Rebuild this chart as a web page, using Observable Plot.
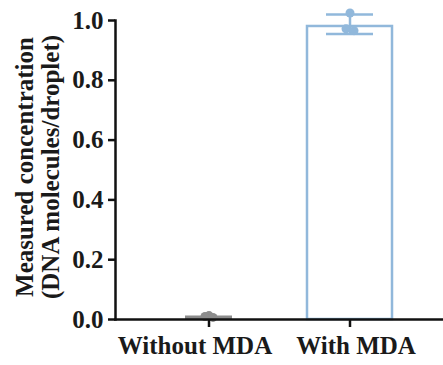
<!DOCTYPE html>
<html>
<head>
<meta charset="utf-8">
<script src="https://cdn.jsdelivr.net/npm/d3@7"></script>
<script src="https://cdn.jsdelivr.net/npm/@observablehq/plot@0.6"></script>
<style>
  html, body { margin: 0; padding: 0; background: #fff; }
  #chart svg { display: block; }
</style>
</head>
<body>
<div id="chart"></div>
<script>
const categories = ["Without MDA", "With MDA"];
const means = [0, 0.98];
const errLow = [0.004, 0.955];
const errHigh = [0.009, 1.02];
const rep1 = [0.013, 1.025];
const rep2 = [0.010, 0.972];
const rep3 = [0.007, 0.966];
const colors = ["#8c8c8c", "#91b8db"];
const yTicks = [0, 0.2, 0.4, 0.6, 0.8, 1.0];
const yTitle = "Measured concentration\n(DNA molecules/droplet)";

const summary = categories.map((c, i) => ({cat: c, mean: means[i], lo: errLow[i], hi: errHigh[i], color: colors[i]}));
const reps = [rep1, rep2, rep3].map(r => categories.map((c, i) => ({cat: c, v: r[i], color: colors[i]})));

const font = "Liberation Serif";
const labelStyle = {tickSize: 0, tickPadding: 17, label: null, fontFamily: font, fontSize: 25, fontWeight: "bold", fill: "#1a1a1a"};

const chart = Plot.plot({
  width: 443,
  height: 365,
  marginLeft: 115,
  marginRight: 0,
  marginTop: 20,
  marginBottom: 46,
  style: {fontFamily: font, fontSize: "25px", fontWeight: "bold", color: "#1a1a1a", background: "#fff"},
  x: {domain: categories, paddingInner: 0.38, paddingOuter: 0.345, align: 0.5, label: null},
  y: {domain: [0, 1], label: null},
  marks: [
    Plot.barY(summary, {x: "cat", y: "mean", fill: "white", stroke: "color", strokeWidth: 2.5, insetLeft: 1, insetRight: 1}),
    Plot.ruleX(summary, {x: "cat", y1: "lo", y2: "hi", stroke: "color", strokeWidth: 2.5}),
    Plot.tickY(summary, {x: "cat", y: "lo", stroke: "color", strokeWidth: 2.5, insetLeft: 20, insetRight: 20}),
    Plot.tickY(summary, {x: "cat", y: "hi", stroke: "color", strokeWidth: 2.5, insetLeft: 20, insetRight: 20}),
    Plot.dot(reps[0], {x: "cat", y: "v", fill: "color", r: 4.5, dx: 0}),
    Plot.dot(reps[1], {x: "cat", y: "v", fill: "color", r: 4.5, dx: -4}),
    Plot.dot(reps[2], {x: "cat", y: "v", fill: "color", r: 4.5, dx: 4}),
    Plot.frame({anchor: "left", stroke: "#111", strokeWidth: 2.5}),
    Plot.frame({anchor: "bottom", stroke: "#111", strokeWidth: 2.5}),
    Plot.axisY({ticks: yTicks, tickFormat: d3.format(".1f"), tickSize: 7, tickPadding: 5, strokeWidth: 2.5, stroke: "#111", label: null, fontFamily: font, fontSize: 25, fontWeight: "bold", fill: "#1a1a1a"}),
    Plot.axisX({text: null, tickSize: 8, strokeWidth: 2.5, stroke: "#111", label: null}),
    Plot.axisX([categories[0]], {...labelStyle, dx: -14}),
    Plot.axisX([categories[1]], {...labelStyle, dx: 6}),
    Plot.text([yTitle], {frameAnchor: "left", textAnchor: "middle", rotate: -90, dx: -78, dy: -3, lineHeight: 1.05, fontFamily: font, fontSize: 25, fontWeight: "bold", fill: "#1a1a1a"})
  ]
});
document.getElementById("chart").appendChild(chart);
</script>
</body>
</html>
